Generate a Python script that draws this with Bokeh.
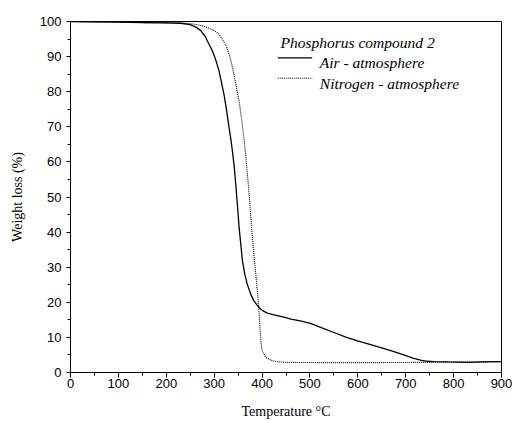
from bokeh.plotting import figure
from bokeh.models import SingleIntervalTicker, Label, Arrow
from bokeh.embed import file_html
from bokeh.resources import INLINE

# Temperature (degC) and weight (%) - Air atmosphere
air_t = [0, 50, 100, 150, 200, 230, 250, 262, 272, 281, 289, 295, 300, 305, 310, 315, 321, 326,
         331, 335, 338, 342, 345, 349, 352, 356, 359, 364, 369, 376, 383, 390, 397, 404, 411, 425,
         439, 450, 460, 480, 501, 525, 550, 575, 599, 625, 648, 672, 696, 715, 731, 745, 759, 790,
         828, 860, 900]
air_w = [100, 99.9, 99.8, 99.7, 99.6, 99.5, 99.1, 98.4, 97.4, 95.8, 93.6, 92.0, 90.3, 88.3, 86.0,
         82.8, 78.9, 74.6, 69.9, 66.3, 63.2, 58.5, 53.7, 47.0, 41.4, 36.0, 31.8, 28.0, 25.2, 22.4,
         20.4, 19.1, 18.1, 17.4, 16.9, 16.4, 16.0, 15.6, 15.2, 14.7, 14.0, 12.7, 11.4, 10.1, 9.0,
         8.0, 7.1, 6.1, 5.0, 4.1, 3.5, 3.2, 3.1, 3.0, 2.9, 3.0, 3.1]

# Nitrogen atmosphere
n2_t = [0, 50, 100, 150, 200, 244, 260, 272, 285, 300, 310, 317, 325, 331, 336, 341, 346, 352,
        357, 361, 365, 368, 372, 375, 378, 381, 384, 387, 390, 392, 394, 396, 398, 399, 401, 404,
        408, 414, 422, 432, 450, 481, 550, 600, 689, 750, 800, 850, 900]
n2_w = [100, 99.9, 99.8, 99.7, 99.6, 99.5, 99.2, 98.9, 98.3, 97.4, 96.4, 95.0, 93.0, 90.8, 88.3,
        85.0, 81.5, 77.5, 72.5, 68.0, 63.0, 58.5, 52.5, 47.0, 41.5, 36.6, 32.0, 28.0, 23.5, 20.4,
        16.5, 11.9, 8.6, 7.1, 6.0, 5.2, 4.3, 3.8, 3.3, 3.1, 2.9, 2.85, 2.8, 2.8, 2.85, 2.9, 3.0,
        3.0, 3.1]

legend_title = "Phosphorus compound 2"
series_labels = ["Air - atmosphere", "Nitrogen - atmosphere"]
x_label = "Temperature \u00b0C"
y_label = "Weight loss (%)"

# legend placement (data units)
leg_title_pos = (438.5, 93.9)
leg_line_x = (432.9, 504.7)
leg_line_y = [89.66, 83.85]
leg_text_x = 520.6
leg_text_y = [88.23, 82.25]

p = figure(width=512, height=423, x_range=(0, 900), y_range=(0, 100),
           output_backend="svg", toolbar_location=None,
           min_border_left=70, min_border_right=11, min_border_top=21, min_border_bottom=51)

p.xgrid.visible = False
p.ygrid.visible = False
p.outline_line_color = "black"
p.outline_line_width = 1

p.xaxis.ticker = SingleIntervalTicker(interval=100, num_minor_ticks=2)
p.yaxis.ticker = SingleIntervalTicker(interval=10, num_minor_ticks=2)

for ax in (p.xaxis, p.yaxis):
    ax.axis_line_color = "black"
    ax.major_tick_line_color = "black"
    ax.minor_tick_line_color = "black"
    ax.major_tick_in = 0
    ax.minor_tick_in = 0
    ax.major_label_text_font = "Liberation Sans"
    ax.major_label_text_font_size = "13px"
    ax.major_label_text_color = "black"
    ax.axis_label_text_font = "Liberation Serif"
    ax.axis_label_text_font_size = "14px"
    ax.axis_label_text_font_style = "normal"
    ax.axis_label_text_color = "black"

p.xaxis.major_tick_out = 5
p.xaxis.minor_tick_out = 3
p.yaxis.major_tick_out = 4
p.yaxis.minor_tick_out = 3
p.xaxis.major_label_standoff = 1
p.yaxis.major_label_standoff = 5
p.xaxis.axis_label = x_label
p.yaxis.axis_label = y_label
p.xaxis.axis_label_standoff = 13
p.yaxis.axis_label_standoff = 12

p.line(air_t, air_w, line_color="black", line_width=1.3)
p.line(n2_t, n2_w, line_color="black", line_width=1.1, line_dash="1 1")

# manual legend
p.add_layout(Label(x=leg_title_pos[0], y=leg_title_pos[1], text=legend_title,
                   text_font="Liberation Serif", text_font_style="italic",
                   text_font_size="15.5px", text_color="black",
                   text_align="left", text_baseline="alphabetic"))
dashes = ["solid", "1 1"]
widths = [1.3, 1.0]
for i, lab in enumerate(series_labels):
    p.add_layout(Arrow(x_start=leg_line_x[0], x_end=leg_line_x[1],
                       y_start=leg_line_y[i], y_end=leg_line_y[i], end=None,
                       line_color="black", line_width=widths[i], line_dash=dashes[i]))
    p.add_layout(Label(x=leg_text_x, y=leg_text_y[i], text=lab,
                       text_font="Liberation Serif", text_font_style="italic",
                       text_font_size="15.5px", text_color="black",
                       text_align="left", text_baseline="alphabetic"))

open("out.html", "w").write(file_html(p, INLINE))
